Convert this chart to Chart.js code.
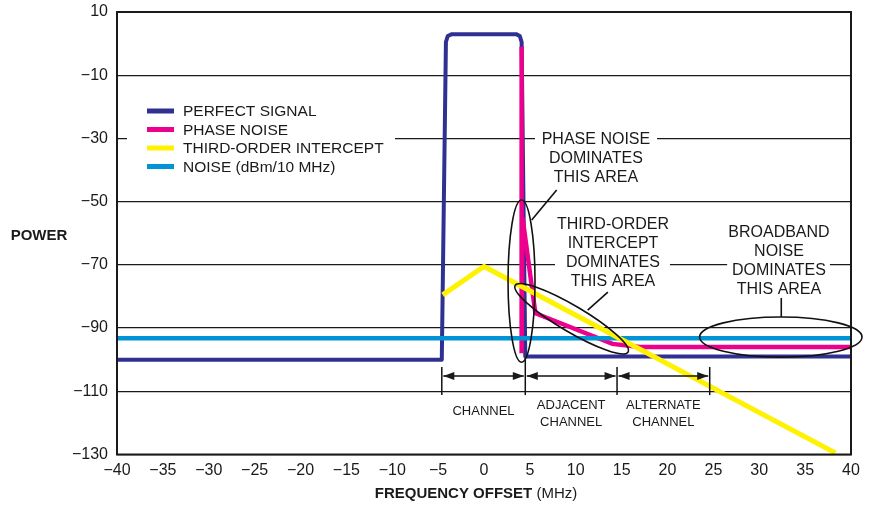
<!DOCTYPE html>
<html lang="en">
<head>
    <meta charset="UTF-8">
    <title>Power vs Frequency Offset</title>
    <script src="https://cdn.jsdelivr.net/npm/chart.js"></script>
    <style>
        body { margin: 0; background: #ffffff; }
        .chart-container { position: relative; width: 874px; height: 506px; }
    </style>
</head>
<body>
    <div class="chart-container">
        <canvas id="powerChart" width="874" height="506"></canvas>
    </div>
    <script>
        // Axis ticks
        const xTickValues = [-40, -35, -30, -25, -20, -15, -10, -5, 0, 5, 10, 15, 20, 25, 30, 35, 40];
        const yTickValues = [10, -10, -30, -50, -70, -90, -110, -130];

        // Series (frequency offset in MHz, power in dBm)
        const perfectX = [-40, -4.6, -4.15, -3.95, -3.5, 3.5, 3.9, 4.1, 4.5, 40];
        const perfectY = [-100, -100, 0.5, 2.4, 3, 3, 2.4, 0.5, -99, -99];
        const phaseX = [4.1, 4.1, 4.2, 5.6, 14, 17, 40];
        const phaseY = [-1, -98, -55, -85.3, -95, -96, -96];
        const thirdX = [-4.5, 0, 38.3];
        const thirdY = [-79.5, -70.5, -129.5];
        const noiseX = [-40, 40];
        const noiseY = [-93.2, -93.2];

        const seriesNames = ['PERFECT SIGNAL', 'PHASE NOISE', 'THIRD-ORDER INTERCEPT', 'NOISE (dBm/10 MHz)'];
        const seriesColors = ['#2e3192', '#ec008c', '#fff200', '#0093d6'];

        // Channel boundaries (MHz) and labels
        const channelEdges = [-4.6, 4.5, 14.5, 24.6];
        const channelLabels = [['CHANNEL'], ['ADJACENT', 'CHANNEL'], ['ALTERNATE', 'CHANNEL']];

        const pts = (xs, ys) => xs.map((x, i) => ({ x: x, y: ys[i] }));
        const FONT = '"Liberation Sans", Arial, sans-serif';
        const minus = v => (v < 0 ? '\u2212' + Math.abs(v) : String(v));

        // white patches behind text so gridlines get broken there
        const gapPlugin = {
            id: 'gaps',
            beforeDatasetsDraw(chart) {
                const ctx = chart.ctx, X = v => chart.scales.x.getPixelForValue(v), Y = v => chart.scales.y.getPixelForValue(v);
                ctx.save();
                ctx.fillStyle = '#ffffff';
                ctx.fillRect(127, 95, 268, 82); // legend box
                ctx.fillRect(X(5.56), Y(-30) - 4, X(18.86) - X(5.56), 8);
                ctx.fillRect(X(7.74), Y(-70) - 4, X(20.27) - X(7.74), 8);
                ctx.fillRect(X(26.5), Y(-70) - 4, X(37.7) - X(26.5), 8);
                ctx.restore();
            }
        };

        const annotPlugin = {
            id: 'annot',
            afterDatasetsDraw(chart) {
                const ctx = chart.ctx, a = chart.chartArea;
                const X = v => chart.scales.x.getPixelForValue(v), Y = v => chart.scales.y.getPixelForValue(v);
                ctx.save();

                // frame
                ctx.strokeStyle = '#1a1a1a';
                ctx.lineWidth = 2;
                ctx.strokeRect(a.left, a.top, a.right - a.left, a.bottom - a.top);

                // legend
                ctx.font = '15.5px ' + FONT;
                ctx.textBaseline = 'middle';
                ctx.textAlign = 'left';
                seriesNames.forEach((name, i) => {
                    const y = 111 + i * 18.5;
                    ctx.strokeStyle = seriesColors[i];
                    ctx.lineWidth = 5;
                    ctx.beginPath(); ctx.moveTo(147, y); ctx.lineTo(174, y); ctx.stroke();
                    ctx.fillStyle = '#1a1a1a';
                    ctx.fillText(name, 183, y + 1);
                });

                // ellipses and pointers
                ctx.strokeStyle = '#111';
                ctx.lineWidth = 1.6;
                const ell = (x0, x1, y0, y1) => {
                    ctx.beginPath();
                    ctx.ellipse((X(x0) + X(x1)) / 2, (Y(y0) + Y(y1)) / 2, Math.abs(X(x1) - X(x0)) / 2, Math.abs(Y(y1) - Y(y0)) / 2, 0, 0, Math.PI * 2);
                    ctx.stroke();
                };
                ell(2.62, 5.56, -49.5, -100.8);
                ell(23.5, 41.2, -86.5, -99.2);
                // tilted ellipse for third-order area
                const ax = X(3.4), ay = Y(-76.5), bx = X(15.7), by = Y(-97.6);
                ctx.beginPath();
                ctx.ellipse((ax + bx) / 2, (ay + by) / 2, Math.hypot(bx - ax, by - ay) / 2, 13, Math.atan2(by - ay, bx - ax), 0, Math.PI * 2);
                ctx.stroke();
                const seg = (x0, y0, x1, y1) => { ctx.beginPath(); ctx.moveTo(X(x0), Y(y0)); ctx.lineTo(X(x1), Y(y1)); ctx.stroke(); };
                seg(5.2, -55.8, 7.92, -46.3);
                seg(11.3, -84.3, 13.5, -78.6);
                seg(32.4, -86.5, 32.4, -80.5);

                // area texts
                ctx.fillStyle = '#1a1a1a';
                ctx.font = '16px ' + FONT;
                ctx.textAlign = 'center';
                const block = (x, y, lines) => lines.forEach((t, i) => ctx.fillText(t, X(x), Y(y) + i * 19 + 1));
                block(12.2, -30, ['PHASE NOISE', 'DOMINATES', 'THIS AREA']);
                block(14.06, -56.8, ['THIRD-ORDER', 'INTERCEPT', 'DOMINATES', 'THIS AREA']);
                block(32.15, -59.6, ['BROADBAND', 'NOISE', 'DOMINATES', 'THIS AREA']);

                // channel markers
                ctx.lineWidth = 1.5;
                channelEdges.forEach((e, i) => seg(e, i === 1 ? -99.5 : -102.3, e, -111.2));
                const arrowY = Y(-105.2);
                const head = (x, dir) => {
                    ctx.beginPath();
                    ctx.moveTo(x, arrowY);
                    ctx.lineTo(x + dir * 11, arrowY - 4);
                    ctx.lineTo(x + dir * 11, arrowY + 4);
                    ctx.closePath(); ctx.fill();
                };
                ctx.font = '13px ' + FONT;
                for (let i = 0; i < channelEdges.length - 1; i++) {
                    const l = X(channelEdges[i]) + 1.5, r = X(channelEdges[i + 1]) - 1.5;
                    ctx.beginPath(); ctx.moveTo(l, arrowY); ctx.lineTo(r, arrowY); ctx.stroke();
                    head(l, 1); head(r, -1);
                    const cx = (l + r) / 2, lines = channelLabels[i];
                    const y0 = lines.length === 1 ? Y(-116.3) : Y(-114.4);
                    lines.forEach((t, j) => ctx.fillText(t, cx, y0 + j * 17));
                }

                // axis titles
                ctx.font = 'bold 15px ' + FONT;
                ctx.fillText('POWER', 39, 236);
                ctx.textAlign = 'left';
                const t1 = 'FREQUENCY OFFSET', t2 = ' (MHz)';
                const w1 = ctx.measureText(t1).width;
                ctx.font = '15px ' + FONT;
                const w2 = ctx.measureText(t2).width;
                const sx = 476 - (w1 + w2) / 2;
                ctx.font = 'bold 15px ' + FONT;
                ctx.fillText(t1, sx, 494);
                ctx.font = '15px ' + FONT;
                ctx.fillText(t2, sx + w1, 494);

                ctx.restore();
            }
        };

        const line = (label, data, color, width, order, extra) => Object.assign({
            label: label, data: data, borderColor: color, backgroundColor: color,
            borderWidth: width, pointRadius: 0, showLine: true, tension: 0, order: order
        }, extra || {});

        const ctx = document.getElementById('powerChart').getContext('2d');
        new Chart(ctx, {
            type: 'scatter',
            data: {
                datasets: [
                    line(seriesNames[0], pts(perfectX, perfectY), seriesColors[0], 4, 3, { borderJoinStyle: 'round' }),
                    line(seriesNames[1], pts(phaseX, phaseY), seriesColors[1], 4.5, 2),
                    line(seriesNames[2], pts(thirdX, thirdY), seriesColors[2], 5, 0),
                    line(seriesNames[3], pts(noiseX, noiseY), seriesColors[3], 4.5, 1)
                ]
            },
            options: {
                responsive: false,
                animation: false,
                events: [],
                layout: { padding: { top: 12, right: 23, left: 0, bottom: 0 } },
                plugins: { legend: { display: false }, tooltip: { enabled: false } },
                scales: {
                    x: {
                        type: 'linear', min: -40, max: 40,
                        afterBuildTicks: s => { s.ticks = xTickValues.map(v => ({ value: v })); },
                        afterFit: s => { s.height = 51.5; s.paddingLeft = 0; s.paddingRight = 0; },
                        grid: { display: false },
                        border: { display: false },
                        ticks: { padding: -2, maxRotation: 0, autoSkip: false, color: '#1a1a1a', font: { family: FONT, size: 16 }, callback: v => minus(v) }
                    },
                    y: {
                        type: 'linear', min: -130, max: 10,
                        afterBuildTicks: s => { s.ticks = yTickValues.map(v => ({ value: v })); },
                        afterFit: s => { s.width = 117; s.paddingTop = 0; s.paddingBottom = 0; },
                        grid: { color: '#1a1a1a', lineWidth: 1.3, drawTicks: false },
                        border: { display: false },
                        ticks: { padding: 9, autoSkip: false, color: '#1a1a1a', font: { family: FONT, size: 16 }, callback: v => minus(v) }
                    }
                }
            },
            plugins: [gapPlugin, annotPlugin]
        });
    </script>
</body>
</html>
